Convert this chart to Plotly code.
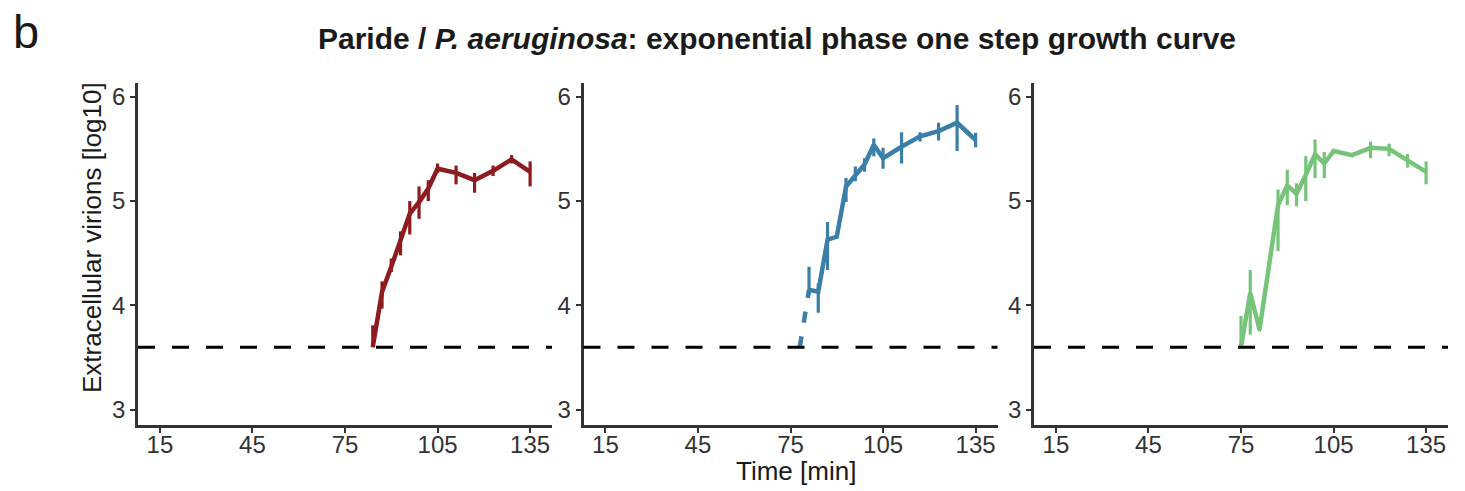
import plotly.graph_objects as go
import numpy as np

# ---------------- data ----------------
detection_limit = 3.6
x_ticks = [15, 45, 75, 105, 135]
y_ticks = [3, 4, 5, 6]

t_red = [84, 87, 90, 93, 96, 99, 102, 105, 111, 117, 123, 129, 135]
v_red = [3.60, 4.13, 4.37, 4.63, 4.88, 4.99, 5.12, 5.31, 5.27, 5.20, 5.29, 5.40, 5.28]
up_red = [0.21, 0.10, 0.08, 0.08, 0.12, 0.15, 0.08, 0.05, 0.07, 0.07, 0.05, 0.04, 0.10]
dn_red = [0.00, 0.16, 0.05, 0.15, 0.20, 0.16, 0.12, 0.04, 0.11, 0.12, 0.05, 0.04, 0.14]

t_blue = [78, 81, 84, 87, 90, 93, 96, 99, 102, 105, 111, 117, 123, 129, 135]
v_blue = [3.60, 4.15, 4.13, 4.63, 4.66, 5.14, 5.25, 5.35, 5.54, 5.41, 5.52, 5.62, 5.67, 5.75, 5.585]
up_blue = [0.00, 0.22, 0.08, 0.17, 0.02, 0.08, 0.08, 0.06, 0.06, 0.10, 0.14, 0.04, 0.08, 0.17, 0.07]
dn_blue = [0.00, 0.05, 0.20, 0.29, 0.02, 0.15, 0.06, 0.07, 0.11, 0.10, 0.16, 0.05, 0.09, 0.27, 0.07]

t_green = [75, 78, 81, 87, 90, 93, 96, 99, 102, 105, 111, 117, 123, 129, 135]
v_green = [3.60, 4.12, 3.77, 4.96, 5.15, 5.07, 5.25, 5.45, 5.36, 5.48, 5.44, 5.51, 5.50, 5.39, 5.28]
up_green = [0.30, 0.22, 0.02, 0.15, 0.15, 0.10, 0.18, 0.14, 0.11, 0.02, 0.02, 0.06, 0.05, 0.06, 0.10]
dn_green = [0.00, 0.40, 0.02, 0.44, 0.19, 0.12, 0.25, 0.23, 0.14, 0.02, 0.02, 0.10, 0.07, 0.07, 0.12]

title_html = "<b>Paride / <i>P. aeruginosa</i>: exponential phase one step growth curve</b>"
y_title = "Extracellular virions [log10]"
x_title = "Time [min]"
panel_label = "b"

c_red = "#8E1B1F"
c_blue = "#3B7EA8"
c_green = "#76C47A"

# ---------------- layout geometry ----------------
OFF = 0  # page body margin is removed by the post script below
W, H = 1465 - OFF, 491 - OFF
L, R, T, B = 138 - OFF, 17, 83 - OFF, 66
PW = W - L - R
PH = H - T - B


def px_x(px):
    return (px - OFF - L) / PW


def px_y(py):
    return (H - B - (py - OFF)) / PH


domains = [
    [px_x(138), px_x(552)],
    [px_x(583.5), px_x(997.5)],
    [px_x(1034), px_x(1448)],
]
x_range = [7.9, 142.1]
y_range = [2.855, 6.131]

fig = go.Figure()

FONT = "Liberation Sans, Arial, Helvetica, sans-serif"


def add_series(idx, t, v, up, dn, color, dashed_first=False):
    xa = "x" if idx == 1 else f"x{idx}"
    ya = "y" if idx == 1 else f"y{idx}"
    start = 1 if dashed_first else 0
    if dashed_first:
        fig.add_trace(go.Scatter(
            x=t[:2], y=v[:2], mode="lines", xaxis=xa, yaxis=ya,
            line=dict(color=color, width=4.5, dash="11px,14px"),
            showlegend=False, hoverinfo="skip"))
    fig.add_trace(go.Scatter(
        x=t[start:], y=v[start:], mode="lines", xaxis=xa, yaxis=ya,
        line=dict(color=color, width=4.5),
        error_y=dict(type="data", symmetric=False, array=up[start:], arrayminus=dn[start:],
                     width=0, thickness=3.2, color=color),
        showlegend=False))


add_series(1, t_red, v_red, up_red, dn_red, c_red)
add_series(2, t_blue, v_blue, up_blue, dn_blue, c_blue, dashed_first=True)
add_series(3, t_green, v_green, up_green, dn_green, c_green)

axis_common = dict(
    showline=True, linecolor="#333333", linewidth=2.5,
    ticks="outside", ticklen=5, tickwidth=1.5, tickcolor="#333333",
    showgrid=False, zeroline=False,
    tickfont=dict(family=FONT, size=24, color="#333333"),
)

layout_axes = {}
for i, dom in enumerate(domains, start=1):
    xk = "xaxis" if i == 1 else f"xaxis{i}"
    yk = "yaxis" if i == 1 else f"yaxis{i}"
    xa = "x" if i == 1 else f"x{i}"
    layout_axes[xk] = dict(domain=dom, range=x_range, tickvals=x_ticks,
                           anchor="y" if i == 1 else f"y{i}",
                           ticklabelstandoff=-9, **axis_common)
    layout_axes[yk] = dict(domain=[0, 1], range=y_range, tickvals=y_ticks,
                           anchor=xa, **axis_common)

shapes = []
for i in range(1, 4):
    xa = "x" if i == 1 else f"x{i}"
    ya = "y" if i == 1 else f"y{i}"
    shapes.append(dict(type="line", xref=f"{xa} domain", yref=ya,
                       x0=0, x1=1, y0=detection_limit, y1=detection_limit,
                       line=dict(color="black", width=3, dash="17px,17px")))

annotations = [
    dict(text=title_html, x=px_x(777), y=px_y(39), xref="paper", yref="paper",
         showarrow=False, xanchor="center", yanchor="middle",
         font=dict(family=FONT, size=30, color="#1a1a1a")),
    dict(text=panel_label, x=px_x(11), y=px_y(32), xref="paper", yref="paper",
         showarrow=False, xanchor="left", yanchor="middle",
         font=dict(family=FONT, size=47, color="#1a1a1a")),
    dict(text=y_title, x=px_x(92), y=px_y(238), xref="paper", yref="paper",
         showarrow=False, xanchor="center", yanchor="middle", textangle=-90,
         font=dict(family=FONT, size=26, color="#1a1a1a")),
    dict(text=x_title, x=px_x(796), y=px_y(471), xref="paper", yref="paper",
         showarrow=False, xanchor="center", yanchor="middle",
         font=dict(family=FONT, size=26, color="#1a1a1a")),
]

fig.update_layout(
    width=W, height=H,
    margin=dict(l=L, r=R, t=T, b=B, autoexpand=False),
    paper_bgcolor="white", plot_bgcolor="white",
    shapes=shapes, annotations=annotations,
    font=dict(family=FONT),
    **layout_axes,
)

fig.write_html("out.html",
               config={"displayModeBar": False},
               post_script="document.body.style.margin='0';document.body.style.padding='0';")
